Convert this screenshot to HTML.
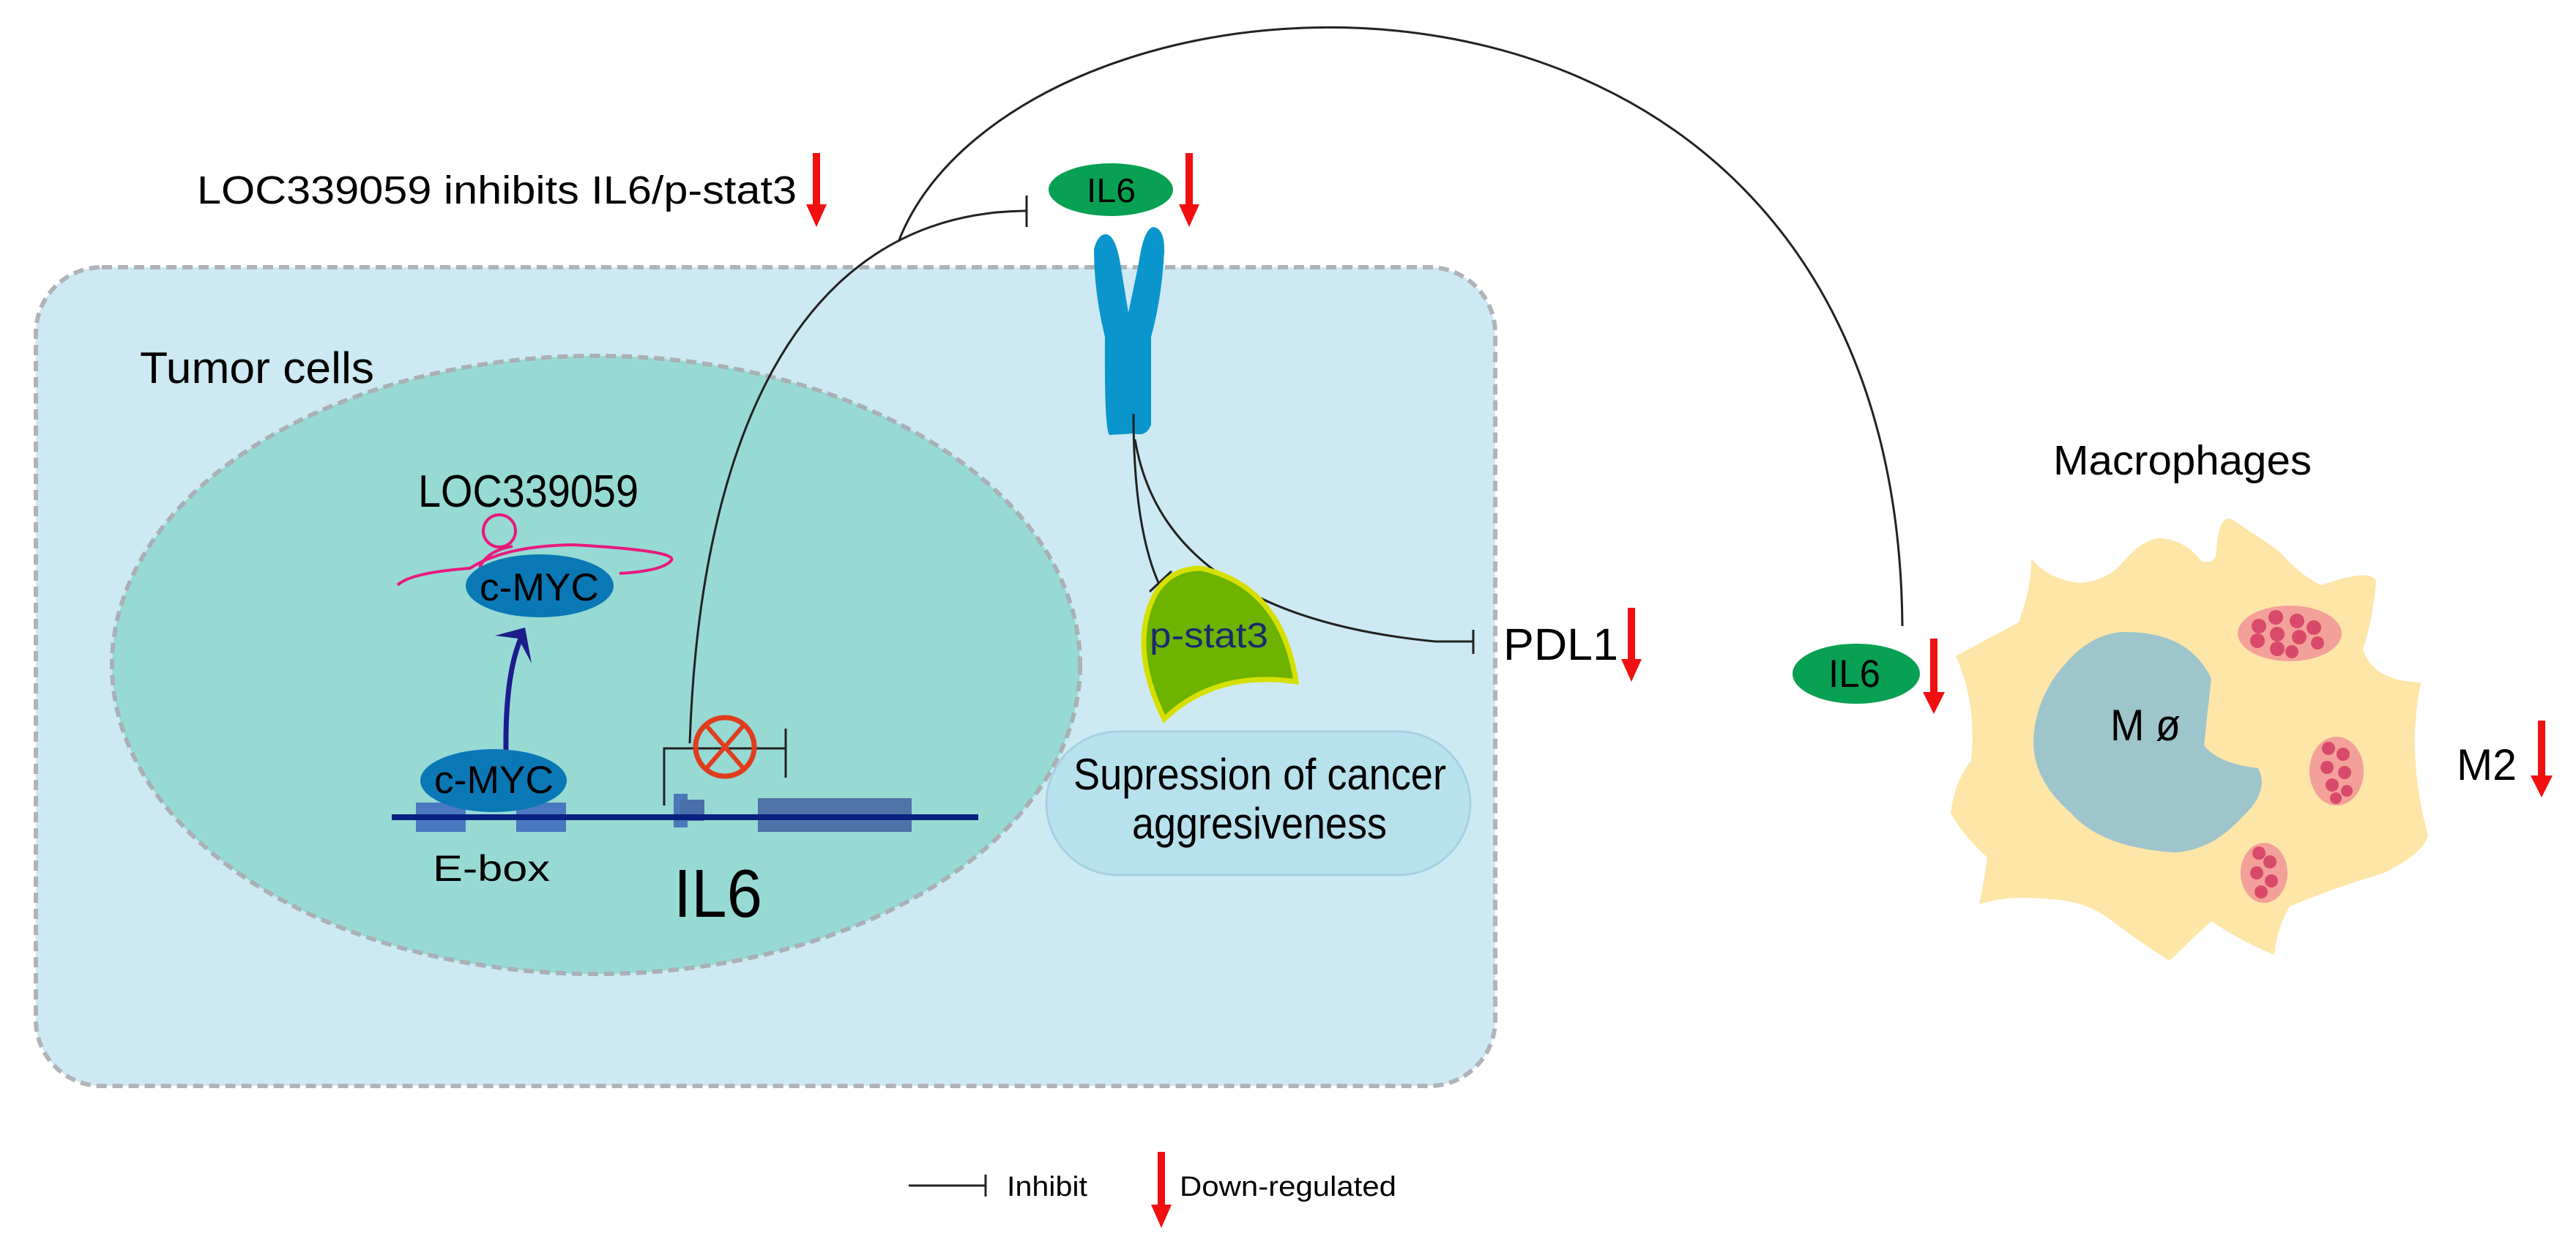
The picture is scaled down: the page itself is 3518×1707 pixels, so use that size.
<!DOCTYPE html>
<html><head><meta charset="utf-8"><style>html,body{margin:0;padding:0;background:#fff}svg{display:block}</style></head>
<body>
<svg width="3518" height="1707" viewBox="0 0 3518 1707" xmlns="http://www.w3.org/2000/svg" font-family="Liberation Sans, Arial, sans-serif">
<!-- tumor cell -->
<rect x="49" y="365" width="1993" height="1118" rx="90" fill="#cde9f3" stroke="#b0b4b8" stroke-width="6" stroke-dasharray="14,8"/>
<ellipse cx="814" cy="908" rx="661" ry="422" fill="#97dad4" stroke="#aab0b4" stroke-width="6" stroke-dasharray="14,8"/>
<text x="191" y="523" font-size="60" textLength="320" lengthAdjust="spacingAndGlyphs">Tumor cells</text>
<text x="571" y="692" font-size="62" textLength="301" lengthAdjust="spacingAndGlyphs">LOC339059</text>
<!-- lncRNA -->
<circle cx="682" cy="725" r="22" fill="none" stroke="#e8197d" stroke-width="4"/>
<path d="M543,799 Q560,782 642,776 Q690,745 783,744 Q925,752 917,765 Q905,780 846,783" fill="none" stroke="#e8197d" stroke-width="4"/>
<path d="M655,775 Q665,752 700,746" fill="none" stroke="#e8197d" stroke-width="4"/>
<ellipse cx="737" cy="800" rx="101" ry="43" fill="#0a78b5"/>
<text x="655" y="820" font-size="53" textLength="163" lengthAdjust="spacingAndGlyphs">c-MYC</text>
<!-- arrow -->
<path d="M691,1024 Q690,920 712,870" fill="none" stroke="#1c1c8c" stroke-width="7"/>
<path d="M717,857 L676,868 L708,872 L726,906 Z" fill="#1c1c8c"/>
<!-- DNA -->
<rect x="568" y="1096" width="68" height="40" fill="#4a78c0"/>
<rect x="705" y="1096" width="68" height="40" fill="#4a78c0"/>
<ellipse cx="674" cy="1066" rx="100" ry="43" fill="#0a78b5"/>
<text x="593" y="1083" font-size="53" textLength="163" lengthAdjust="spacingAndGlyphs">c-MYC</text>
<rect x="920" y="1084" width="19" height="46" fill="#4a78b8"/>
<rect x="929" y="1092" width="33" height="29" fill="#4a6fa8"/>
<rect x="1035" y="1090" width="210" height="46" fill="#4f73a8"/>
<line x1="535" y1="1116" x2="1336" y2="1116" stroke="#0a2080" stroke-width="8"/>
<text x="591" y="1203" font-size="50" textLength="160" lengthAdjust="spacingAndGlyphs">E-box</text>
<text x="920" y="1252" font-size="93" textLength="121" lengthAdjust="spacingAndGlyphs">IL6</text>
<!-- bracket -->
<path d="M907,1100 L907,1022 L1073,1022 M1073,995 L1073,1062" fill="none" stroke="#222" stroke-width="3"/>
<ellipse cx="990" cy="1020" rx="40" ry="40" fill="none" stroke="#e03c1e" stroke-width="7"/>
<line x1="964" y1="990" x2="1016" y2="1050" stroke="#e03c1e" stroke-width="6"/>
<line x1="1016" y1="990" x2="964" y2="1050" stroke="#e03c1e" stroke-width="6"/>
<!-- inhibit curve to IL6 -->
<path d="M942,1015 C955,620 1080,290 1402,288" fill="none" stroke="#222" stroke-width="3"/>
<line x1="1402" y1="267" x2="1402" y2="310" stroke="#222" stroke-width="3"/>
<!-- big arc -->
<path d="M1227,330 C1390,-90 2590,-170 2598,855" fill="none" stroke="#222" stroke-width="3"/>
<!-- top label -->
<text x="269" y="278" font-size="54" textLength="819" lengthAdjust="spacingAndGlyphs">LOC339059 inhibits IL6/p-stat3</text>
<rect x="1110" y="209" width="10" height="72" fill="#f01010"/><path d="M1101,279 L1129,279 L1115,310 Z" fill="#f01010"/>
<ellipse cx="1517" cy="259" rx="85" ry="36" fill="#08a052"/>
<text x="1484" y="276" font-size="46" textLength="67" lengthAdjust="spacingAndGlyphs">IL6</text>
<rect x="1619" y="209" width="10" height="72" fill="#f01010"/><path d="M1610,279 L1638,279 L1624,310 Z" fill="#f01010"/>
<!-- receptor -->
<path d="M1494,340 Q1500,318 1512,320 Q1524,324 1530,360 L1541,427 L1555,360 Q1562,312 1575,310 Q1591,312 1590,345 Q1586,410 1572,460 L1572,580 Q1566,597 1548,592 L1515,594 Q1508,585 1509,460 Q1494,400 1494,340 Z" fill="#0a96cc"/>
<!-- lines from receptor -->
<path d="M1548,565 Q1548,720 1583,798" fill="none" stroke="#222" stroke-width="3"/>
<line x1="1570" y1="808" x2="1600" y2="780" stroke="#222" stroke-width="3"/>
<path d="M1550,600 Q1590,840 1960,876 L2012,876" fill="none" stroke="#222" stroke-width="3"/>
<line x1="2012" y1="860" x2="2012" y2="893" stroke="#222" stroke-width="3"/>
<!-- p-stat3 -->
<path d="M1579,809 Q1600,776 1640,776 Q1750,800 1770,931 Q1660,915 1590,982 Q1540,880 1579,809 Z" fill="#6db300" stroke="#d6e000" stroke-width="7"/>
<text x="1570" y="884" font-size="48" textLength="162" lengthAdjust="spacingAndGlyphs" fill="#1a2a6c">p-stat3</text>
<!-- suppression -->
<rect x="1429" y="999" width="579" height="196" rx="98" fill="#b8e1ee" stroke="#a8d0e0" stroke-width="3"/>
<text x="1466" y="1078" font-size="60" textLength="509" lengthAdjust="spacingAndGlyphs">Supression of cancer</text>
<text x="1546" y="1145" font-size="60" textLength="348" lengthAdjust="spacingAndGlyphs">aggresiveness</text>
<!-- PDL1 -->
<text x="2053" y="901" font-size="61" textLength="157" lengthAdjust="spacingAndGlyphs">PDL1</text>
<rect x="2223" y="830" width="10" height="72" fill="#f01010"/><path d="M2214,900 L2242,900 L2228,931 Z" fill="#f01010"/>
<!-- macrophage -->
<text x="2804" y="648" font-size="57" textLength="353" lengthAdjust="spacingAndGlyphs">Macrophages</text>
<path d="M2774,763 Q2800,793 2842,796 Q2880,792 2899,768 Q2925,737 2949,735 Q2985,737 3006,766 Q3025,772 3027,753 Q3030,700 3049,710 Q3080,730 3113,753 Q3140,785 3170,799 Q3240,775 3245,794 Q3240,850 3227,886 Q3240,930 3306,932 Q3300,965 3298,998 Q3296,1070 3316,1141 Q3310,1165 3256,1192 Q3180,1215 3127,1238 Q3110,1265 3106,1304 Q3060,1285 3020,1258 Q2990,1285 2963,1312 Q2930,1292 2885,1258 Q2850,1230 2799,1228 Q2740,1222 2703,1235 Q2710,1200 2714,1171 Q2680,1140 2664,1110 Q2670,1065 2692,1039 Q2700,960 2671,896 Q2710,875 2757,850 Q2775,800 2774,763 Z" fill="#fde6a8"/>
<path d="M2899,863 Q2990,862 3020,927 Q3015,970 3010,1018 Q3030,1043 3084,1049 Q3100,1080 3063,1115 Q3020,1162 2970,1164 Q2870,1158 2828,1110 Q2770,1060 2778,998 Q2785,945 2821,906 Q2855,866 2899,863 Z" fill="#9ec5cb"/>
<text x="2882" y="1011" font-size="60" textLength="96" lengthAdjust="spacingAndGlyphs">M ø</text>
<ellipse cx="3127" cy="865" rx="71" ry="38" fill="#f4a09a"/>
<ellipse cx="3191" cy="1053" rx="37" ry="47" fill="#f4a09a"/>
<ellipse cx="3092" cy="1192" rx="32" ry="41" fill="#f4a09a"/>
<g fill="#d94a6a">
<circle cx="3085" cy="855" r="10"/><circle cx="3108" cy="843" r="10"/><circle cx="3137" cy="848" r="10"/><circle cx="3160" cy="857" r="10"/><circle cx="3083" cy="875" r="10"/><circle cx="3110" cy="866" r="10"/><circle cx="3140" cy="870" r="10"/><circle cx="3165" cy="878" r="9"/><circle cx="3110" cy="886" r="10"/><circle cx="3130" cy="890" r="9"/>
<circle cx="3180" cy="1022" r="9"/><circle cx="3200" cy="1030" r="9"/><circle cx="3178" cy="1048" r="9"/><circle cx="3202" cy="1055" r="9"/><circle cx="3185" cy="1072" r="9"/><circle cx="3205" cy="1080" r="8"/><circle cx="3190" cy="1090" r="8"/>
<circle cx="3085" cy="1165" r="9"/><circle cx="3100" cy="1177" r="9"/><circle cx="3082" cy="1192" r="9"/><circle cx="3102" cy="1203" r="9"/><circle cx="3088" cy="1218" r="9"/>
</g>
<ellipse cx="2535" cy="920" rx="87" ry="41" fill="#08a052"/>
<text x="2497" y="938" font-size="53" textLength="71" lengthAdjust="spacingAndGlyphs">IL6</text>
<rect x="2636" y="872" width="10" height="75" fill="#f01010"/><path d="M2626,945 L2656,945 L2641,975 Z" fill="#f01010"/>
<text x="3355" y="1065" font-size="60" textLength="82" lengthAdjust="spacingAndGlyphs">M2</text>
<rect x="3466" y="984" width="10" height="77" fill="#f01010"/><path d="M3456,1059 L3486,1059 L3471,1089 Z" fill="#f01010"/>
<!-- legend -->
<line x1="1241" y1="1619" x2="1346" y2="1619" stroke="#222" stroke-width="3"/>
<line x1="1346" y1="1604" x2="1346" y2="1634" stroke="#222" stroke-width="3"/>
<text x="1375" y="1633" font-size="38" textLength="110" lengthAdjust="spacingAndGlyphs">Inhibit</text>
<rect x="1581" y="1573" width="10" height="74" fill="#f01010"/><path d="M1572,1645 L1600,1645 L1586,1677 Z" fill="#f01010"/>
<text x="1611" y="1633" font-size="38" textLength="296" lengthAdjust="spacingAndGlyphs">Down-regulated</text>
</svg>
</body></html>
